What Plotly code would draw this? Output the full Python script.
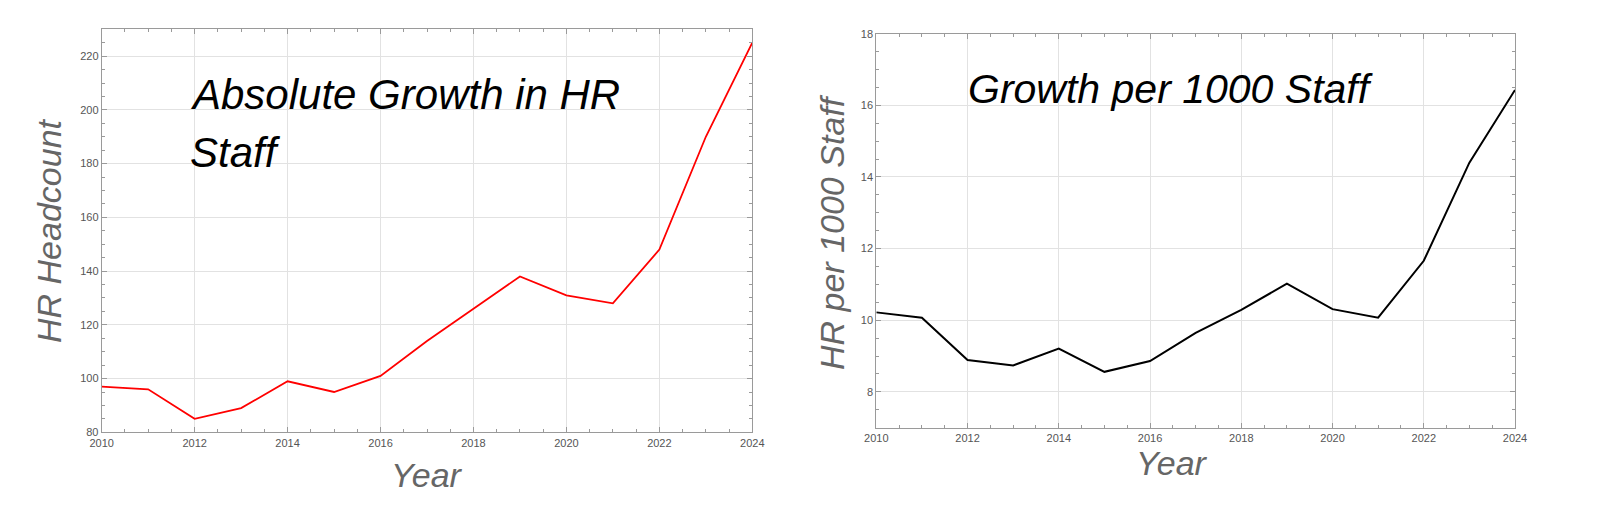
import plotly.graph_objects as go

# data
years = list(range(2010, 2025))
hr_headcount = [97, 96, 85, 89, 99, 95, 101, 114, 126, 138, 131, 128, 148, 190, 225]
hr_per_1000 = [10.22, 10.07, 8.89, 8.74, 9.21, 8.56, 8.86, 9.65, 10.29, 11.02,
               10.31, 10.07, 11.66, 14.4, 16.43]

W, H = 1600, 513
FONT = "Liberation Sans"
FRAME = "#9a9a9a"
GRID = "#e2e2e2"
TICKFONT = dict(family=FONT, size=11, color="#555555")


def px(x):
    return x / W


def py(y):
    return 1 - y / H


fig = go.Figure()

fig.add_trace(go.Scatter(x=years, y=hr_headcount, mode="lines",
                         line=dict(color="#ff0000", width=1.8),
                         xaxis="x", yaxis="y", showlegend=False))
fig.add_trace(go.Scatter(x=years, y=hr_per_1000, mode="lines",
                         line=dict(color="#000000", width=2),
                         xaxis="x2", yaxis="y2", showlegend=False))

axis_common = dict(showline=True, linecolor=FRAME, linewidth=1, mirror="allticks",
                   ticks="inside", ticklen=5, tickcolor=FRAME,
                   showgrid=True, gridcolor=GRID, zeroline=False,
                   tickfont=TICKFONT, automargin=False)

fig.update_layout(
    width=W, height=H,
    margin=dict(l=0, r=0, t=0, b=0, pad=0),
    paper_bgcolor="white", plot_bgcolor="white",
    xaxis=dict(axis_common, domain=[px(101.7), px(752.3)], anchor="y",
               range=[2010, 2024], dtick=2,
               minor=dict(dtick=0.5, ticks="inside", ticklen=3, tickcolor=FRAME, showgrid=False)),
    yaxis=dict(axis_common, domain=[py(432.3), py(29.3)], anchor="x",
               range=[80, 230], dtick=20,
               minor=dict(dtick=5, ticks="inside", ticklen=3, tickcolor=FRAME, showgrid=False)),
    xaxis2=dict(axis_common, domain=[px(876.3), px(1515)], anchor="y2",
                range=[2010, 2024], dtick=2,
                minor=dict(dtick=0.5, ticks="inside", ticklen=3, tickcolor=FRAME, showgrid=False)),
    yaxis2=dict(axis_common, domain=[py(427.7), py(33.7)], anchor="x2",
                range=[7, 18], dtick=2,
                minor=dict(dtick=0.5, ticks="inside", ticklen=3, tickcolor=FRAME, showgrid=False)),
)

big_gray = dict(family=FONT, size=34, color="#666666", style="italic")
big_black = dict(family=FONT, size=42, color="#000000", style="italic")

annotations = [
    # panel titles
    dict(text="Absolute Growth in HR", x=px(188), y=py(94), xanchor="left", yanchor="middle",
         font=big_black),
    dict(text="Staff", x=px(188), y=py(152), xanchor="left", yanchor="middle",
         font=big_black),
    dict(text="Growth per 1000 Staff", x=px(966), y=py(89), xanchor="left", yanchor="middle",
         font=dict(big_black, size=41)),
    # axis titles
    dict(text="HR Headcount", x=px(49), y=py(231), textangle=-90,
         xanchor="center", yanchor="middle", font=big_gray),
    dict(text="HR per 1000 Staff", x=px(832), y=py(232), textangle=-90,
         xanchor="center", yanchor="middle", font=big_gray),
    dict(text="Year", x=px(427), y=py(475), xanchor="center", yanchor="middle", font=big_gray),
    dict(text="Year", x=px(1172), y=py(463), xanchor="center", yanchor="middle", font=big_gray),
]
for a in annotations:
    a.update(xref="paper", yref="paper", showarrow=False)
fig.update_layout(annotations=annotations)

# drop the browser's default body margin so the figure sits at the window corner
fig.write_html("out.html", config={"displayModeBar": False},
               post_script="document.body.style.margin = '0';")
